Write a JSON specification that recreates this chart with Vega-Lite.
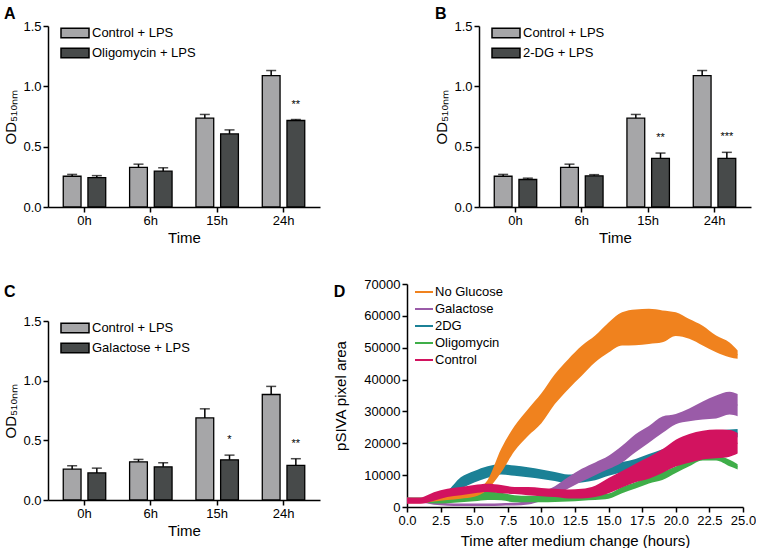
{
  "$schema": "https://vega.github.io/schema/vega-lite/v6.json",
  "padding": {"left": 3, "top": 6, "right": 0, "bottom": 0},
  "background": "white",
  "config": {
    "font": "Liberation Sans",
    "view": {"stroke": null},
    "axis": {"domainColor": "black", "domainWidth": 1.5, "tickColor": "black", "tickWidth": 1.5, "tickSize": 5, "labelColor": "black", "labelFontSize": 13, "labelFont": "Liberation Sans", "titleFont": "Liberation Sans", "titleFontSize": 15, "titleFontWeight": "normal", "titleColor": "black", "grid": false, "labelPadding": 2, "labelOverlap": false, "labelFlush": false},
    "legend": {"labelFontSize": 13, "labelColor": "black", "labelFont": "Liberation Sans", "padding": 0},
    "title": {"font": "Liberation Sans", "fontSize": 16, "fontWeight": "bold", "color": "black", "anchor": "start", "frame": "bounds"}
  },
  "resolve": {"scale": {"color": "independent", "fill": "independent", "stroke": "independent", "x": "independent", "y": "independent", "xOffset": "independent"}, "legend": {"color": "independent", "stroke": "independent"}},
  "datasets": {
    "A": [
      {"time": "0h", "group": "Control + LPS", "mean": 0.255, "top": 0.27, "star": ""},
      {"time": "6h", "group": "Control + LPS", "mean": 0.328, "top": 0.355, "star": ""},
      {"time": "15h", "group": "Control + LPS", "mean": 0.736, "top": 0.767, "star": ""},
      {"time": "24h", "group": "Control + LPS", "mean": 1.089, "top": 1.131, "star": ""},
      {"time": "0h", "group": "Oligomycin + LPS", "mean": 0.244, "top": 0.26, "star": ""},
      {"time": "6h", "group": "Oligomycin + LPS", "mean": 0.297, "top": 0.325, "star": ""},
      {"time": "15h", "group": "Oligomycin + LPS", "mean": 0.606, "top": 0.639, "star": ""},
      {"time": "24h", "group": "Oligomycin + LPS", "mean": 0.717, "top": 0.725, "star": "**"}
    ],
    "B": [
      {"time": "0h", "group": "Control + LPS", "mean": 0.255, "top": 0.27, "star": ""},
      {"time": "6h", "group": "Control + LPS", "mean": 0.328, "top": 0.355, "star": ""},
      {"time": "15h", "group": "Control + LPS", "mean": 0.736, "top": 0.767, "star": ""},
      {"time": "24h", "group": "Control + LPS", "mean": 1.089, "top": 1.131, "star": ""},
      {"time": "0h", "group": "2-DG + LPS", "mean": 0.228, "top": 0.239, "star": ""},
      {"time": "6h", "group": "2-DG + LPS", "mean": 0.258, "top": 0.268, "star": ""},
      {"time": "15h", "group": "2-DG + LPS", "mean": 0.403, "top": 0.447, "star": "**"},
      {"time": "24h", "group": "2-DG + LPS", "mean": 0.403, "top": 0.453, "star": "***"}
    ],
    "C": [
      {"time": "0h", "group": "Control + LPS", "mean": 0.258, "top": 0.287, "star": ""},
      {"time": "6h", "group": "Control + LPS", "mean": 0.32, "top": 0.34, "star": ""},
      {"time": "15h", "group": "Control + LPS", "mean": 0.688, "top": 0.764, "star": ""},
      {"time": "24h", "group": "Control + LPS", "mean": 0.884, "top": 0.952, "star": ""},
      {"time": "0h", "group": "Galactose + LPS", "mean": 0.227, "top": 0.267, "star": ""},
      {"time": "6h", "group": "Galactose + LPS", "mean": 0.278, "top": 0.312, "star": ""},
      {"time": "15h", "group": "Galactose + LPS", "mean": 0.337, "top": 0.376, "star": "*"},
      {"time": "24h", "group": "Galactose + LPS", "mean": 0.29, "top": 0.346, "star": "**"}
    ],
    "D": [
      {"s": "2DG", "t": 0, "lo": 1400, "mid": 2000, "hi": 2600},
      {"s": "2DG", "t": 1, "lo": 1400, "mid": 2000, "hi": 2600},
      {"s": "2DG", "t": 2, "lo": 1700, "mid": 2500, "hi": 3300},
      {"s": "2DG", "t": 3, "lo": 3000, "mid": 4000, "hi": 5000},
      {"s": "2DG", "t": 4, "lo": 5700, "mid": 7500, "hi": 9300},
      {"s": "2DG", "t": 5, "lo": 7700, "mid": 9500, "hi": 11300},
      {"s": "2DG", "t": 6, "lo": 9200, "mid": 11000, "hi": 12800},
      {"s": "2DG", "t": 7, "lo": 10200, "mid": 11800, "hi": 13400},
      {"s": "2DG", "t": 8, "lo": 9800, "mid": 11400, "hi": 13000},
      {"s": "2DG", "t": 9, "lo": 9300, "mid": 10900, "hi": 12500},
      {"s": "2DG", "t": 10, "lo": 8800, "mid": 10300, "hi": 11800},
      {"s": "2DG", "t": 11, "lo": 8200, "mid": 9600, "hi": 11000},
      {"s": "2DG", "t": 12, "lo": 7400, "mid": 8800, "hi": 10200},
      {"s": "2DG", "t": 13, "lo": 7700, "mid": 9200, "hi": 10700},
      {"s": "2DG", "t": 14, "lo": 8400, "mid": 10000, "hi": 11600},
      {"s": "2DG", "t": 15, "lo": 9800, "mid": 11500, "hi": 13200},
      {"s": "2DG", "t": 16, "lo": 10900, "mid": 12500, "hi": 14100},
      {"s": "2DG", "t": 17, "lo": 11900, "mid": 13500, "hi": 15100},
      {"s": "2DG", "t": 18, "lo": 13400, "mid": 15000, "hi": 16600},
      {"s": "2DG", "t": 19, "lo": 14900, "mid": 16500, "hi": 18100},
      {"s": "2DG", "t": 20, "lo": 16400, "mid": 18000, "hi": 19600},
      {"s": "2DG", "t": 21, "lo": 17900, "mid": 19500, "hi": 21100},
      {"s": "2DG", "t": 22, "lo": 18900, "mid": 20500, "hi": 22100},
      {"s": "2DG", "t": 23, "lo": 20200, "mid": 22000, "hi": 23800},
      {"s": "2DG", "t": 24, "lo": 21300, "mid": 22800, "hi": 24300},
      {"s": "2DG", "t": 24.6, "lo": 21900, "mid": 23200, "hi": 24500},
      {"s": "Galactose", "t": 0, "lo": 1700, "mid": 2300, "hi": 2900},
      {"s": "Galactose", "t": 1, "lo": 1400, "mid": 2000, "hi": 2600},
      {"s": "Galactose", "t": 2, "lo": 700, "mid": 1200, "hi": 1700},
      {"s": "Galactose", "t": 3, "lo": 400, "mid": 800, "hi": 1200},
      {"s": "Galactose", "t": 4, "lo": 300, "mid": 700, "hi": 1100},
      {"s": "Galactose", "t": 5, "lo": 300, "mid": 700, "hi": 1100},
      {"s": "Galactose", "t": 6, "lo": 300, "mid": 700, "hi": 1100},
      {"s": "Galactose", "t": 7, "lo": 400, "mid": 800, "hi": 1200},
      {"s": "Galactose", "t": 8, "lo": 500, "mid": 900, "hi": 1300},
      {"s": "Galactose", "t": 9, "lo": 800, "mid": 1500, "hi": 2200},
      {"s": "Galactose", "t": 10, "lo": 1900, "mid": 3200, "hi": 4500},
      {"s": "Galactose", "t": 11, "lo": 3500, "mid": 5000, "hi": 6500},
      {"s": "Galactose", "t": 12, "lo": 5800, "mid": 7600, "hi": 9400},
      {"s": "Galactose", "t": 13, "lo": 8000, "mid": 10000, "hi": 12000},
      {"s": "Galactose", "t": 14, "lo": 10000, "mid": 12000, "hi": 14000},
      {"s": "Galactose", "t": 15, "lo": 11900, "mid": 14000, "hi": 16100},
      {"s": "Galactose", "t": 16, "lo": 14000, "mid": 16600, "hi": 19200},
      {"s": "Galactose", "t": 17, "lo": 17200, "mid": 20000, "hi": 22800},
      {"s": "Galactose", "t": 18, "lo": 20200, "mid": 22800, "hi": 25400},
      {"s": "Galactose", "t": 19, "lo": 23200, "mid": 25800, "hi": 28400},
      {"s": "Galactose", "t": 20, "lo": 26000, "mid": 27600, "hi": 29200},
      {"s": "Galactose", "t": 21, "lo": 26900, "mid": 28900, "hi": 30900},
      {"s": "Galactose", "t": 22, "lo": 27500, "mid": 30300, "hi": 33100},
      {"s": "Galactose", "t": 23, "lo": 27800, "mid": 31400, "hi": 35000},
      {"s": "Galactose", "t": 24, "lo": 29000, "mid": 32600, "hi": 36200},
      {"s": "Galactose", "t": 24.6, "lo": 28500, "mid": 32000, "hi": 35500},
      {"s": "Oligomycin", "t": 0, "lo": 1400, "mid": 2200, "hi": 3000},
      {"s": "Oligomycin", "t": 1, "lo": 1400, "mid": 2200, "hi": 3000},
      {"s": "Oligomycin", "t": 2, "lo": 1100, "mid": 1900, "hi": 2700},
      {"s": "Oligomycin", "t": 3, "lo": 1200, "mid": 2000, "hi": 2800},
      {"s": "Oligomycin", "t": 4, "lo": 1500, "mid": 2500, "hi": 3500},
      {"s": "Oligomycin", "t": 5, "lo": 1800, "mid": 3000, "hi": 4200},
      {"s": "Oligomycin", "t": 6, "lo": 2200, "mid": 3500, "hi": 4800},
      {"s": "Oligomycin", "t": 7, "lo": 2100, "mid": 3300, "hi": 4500},
      {"s": "Oligomycin", "t": 8, "lo": 1500, "mid": 2600, "hi": 3700},
      {"s": "Oligomycin", "t": 9, "lo": 1500, "mid": 2500, "hi": 3500},
      {"s": "Oligomycin", "t": 10, "lo": 1500, "mid": 2500, "hi": 3500},
      {"s": "Oligomycin", "t": 11, "lo": 1600, "mid": 2600, "hi": 3600},
      {"s": "Oligomycin", "t": 12, "lo": 1700, "mid": 2700, "hi": 3700},
      {"s": "Oligomycin", "t": 13, "lo": 2000, "mid": 2800, "hi": 3600},
      {"s": "Oligomycin", "t": 14, "lo": 2200, "mid": 3000, "hi": 3800},
      {"s": "Oligomycin", "t": 15, "lo": 2600, "mid": 3400, "hi": 4200},
      {"s": "Oligomycin", "t": 16, "lo": 4300, "mid": 5300, "hi": 6300},
      {"s": "Oligomycin", "t": 17, "lo": 5800, "mid": 6800, "hi": 7800},
      {"s": "Oligomycin", "t": 18, "lo": 7400, "mid": 8400, "hi": 9400},
      {"s": "Oligomycin", "t": 19, "lo": 8500, "mid": 9800, "hi": 11100},
      {"s": "Oligomycin", "t": 20, "lo": 10700, "mid": 11700, "hi": 12700},
      {"s": "Oligomycin", "t": 21, "lo": 12800, "mid": 13800, "hi": 14800},
      {"s": "Oligomycin", "t": 22, "lo": 14600, "mid": 15400, "hi": 16200},
      {"s": "Oligomycin", "t": 23, "lo": 14600, "mid": 15400, "hi": 16200},
      {"s": "Oligomycin", "t": 24, "lo": 12800, "mid": 13800, "hi": 14800},
      {"s": "Oligomycin", "t": 24.6, "lo": 11800, "mid": 12600, "hi": 13400},
      {"s": "No Glucose", "t": 0, "lo": 1200, "mid": 2000, "hi": 2800},
      {"s": "No Glucose", "t": 1, "lo": 1200, "mid": 2000, "hi": 2800},
      {"s": "No Glucose", "t": 2, "lo": 1700, "mid": 2500, "hi": 3300},
      {"s": "No Glucose", "t": 3, "lo": 2200, "mid": 3000, "hi": 3800},
      {"s": "No Glucose", "t": 4, "lo": 2600, "mid": 3500, "hi": 4400},
      {"s": "No Glucose", "t": 5, "lo": 3200, "mid": 4200, "hi": 5200},
      {"s": "No Glucose", "t": 6, "lo": 5500, "mid": 7000, "hi": 8500},
      {"s": "No Glucose", "t": 7, "lo": 10800, "mid": 14500, "hi": 18200},
      {"s": "No Glucose", "t": 8, "lo": 17600, "mid": 21500, "hi": 25400},
      {"s": "No Glucose", "t": 9, "lo": 22300, "mid": 26500, "hi": 30700},
      {"s": "No Glucose", "t": 10, "lo": 26300, "mid": 31000, "hi": 35700},
      {"s": "No Glucose", "t": 11, "lo": 32300, "mid": 37000, "hi": 41700},
      {"s": "No Glucose", "t": 12, "lo": 37000, "mid": 41700, "hi": 46400},
      {"s": "No Glucose", "t": 13, "lo": 41200, "mid": 45900, "hi": 50600},
      {"s": "No Glucose", "t": 14, "lo": 45400, "mid": 49600, "hi": 53800},
      {"s": "No Glucose", "t": 15, "lo": 48500, "mid": 53200, "hi": 57900},
      {"s": "No Glucose", "t": 16, "lo": 50700, "mid": 55900, "hi": 61100},
      {"s": "No Glucose", "t": 17, "lo": 50800, "mid": 56400, "hi": 62000},
      {"s": "No Glucose", "t": 18, "lo": 51200, "mid": 56700, "hi": 62200},
      {"s": "No Glucose", "t": 19, "lo": 51700, "mid": 56700, "hi": 61700},
      {"s": "No Glucose", "t": 20, "lo": 53700, "mid": 57400, "hi": 61100},
      {"s": "No Glucose", "t": 21, "lo": 52800, "mid": 55900, "hi": 59000},
      {"s": "No Glucose", "t": 22, "lo": 50700, "mid": 53800, "hi": 56900},
      {"s": "No Glucose", "t": 23, "lo": 48600, "mid": 51200, "hi": 53800},
      {"s": "No Glucose", "t": 24, "lo": 47000, "mid": 49300, "hi": 51600},
      {"s": "No Glucose", "t": 24.6, "lo": 46500, "mid": 47800, "hi": 49100},
      {"s": "Control", "t": 0, "lo": 1000, "mid": 2000, "hi": 3000},
      {"s": "Control", "t": 1, "lo": 1000, "mid": 2000, "hi": 3000},
      {"s": "Control", "t": 2, "lo": 2000, "mid": 3300, "hi": 4600},
      {"s": "Control", "t": 3, "lo": 3100, "mid": 4400, "hi": 5700},
      {"s": "Control", "t": 4, "lo": 3700, "mid": 5000, "hi": 6300},
      {"s": "Control", "t": 5, "lo": 4300, "mid": 5600, "hi": 6900},
      {"s": "Control", "t": 6, "lo": 4700, "mid": 6000, "hi": 7300},
      {"s": "Control", "t": 7, "lo": 4300, "mid": 5600, "hi": 6900},
      {"s": "Control", "t": 8, "lo": 4100, "mid": 5200, "hi": 6300},
      {"s": "Control", "t": 9, "lo": 3700, "mid": 5000, "hi": 6300},
      {"s": "Control", "t": 10, "lo": 3400, "mid": 4700, "hi": 6000},
      {"s": "Control", "t": 11, "lo": 3100, "mid": 4400, "hi": 5700},
      {"s": "Control", "t": 12, "lo": 2700, "mid": 4100, "hi": 5500},
      {"s": "Control", "t": 13, "lo": 2700, "mid": 4200, "hi": 5700},
      {"s": "Control", "t": 14, "lo": 3100, "mid": 4900, "hi": 6700},
      {"s": "Control", "t": 15, "lo": 4300, "mid": 6700, "hi": 9100},
      {"s": "Control", "t": 16, "lo": 6100, "mid": 8700, "hi": 11300},
      {"s": "Control", "t": 17, "lo": 7800, "mid": 10700, "hi": 13600},
      {"s": "Control", "t": 18, "lo": 8900, "mid": 12300, "hi": 15700},
      {"s": "Control", "t": 19, "lo": 10700, "mid": 14400, "hi": 18100},
      {"s": "Control", "t": 20, "lo": 12700, "mid": 16900, "hi": 21100},
      {"s": "Control", "t": 21, "lo": 13900, "mid": 18400, "hi": 22900},
      {"s": "Control", "t": 22, "lo": 14900, "mid": 19400, "hi": 23900},
      {"s": "Control", "t": 23, "lo": 15300, "mid": 19800, "hi": 24300},
      {"s": "Control", "t": 24, "lo": 15800, "mid": 20000, "hi": 24200},
      {"s": "Control", "t": 24.6, "lo": 16800, "mid": 20000, "hi": 23200}
    ]
  },
  "vconcat": [
    {
      "resolve": {"scale": {"color": "independent", "x": "independent", "y": "independent", "xOffset": "independent"}, "legend": {"color": "independent"}},
      "hconcat": [
        {
          "width": 272, "height": 181,
          "title": {"text": "A", "offset": 2, "dy": 4},
          "data": {"name": "A"},
          "encoding": {
            "x": {"field": "time", "type": "nominal", "sort": ["0h", "6h", "15h", "24h"], "scale": {"paddingInner": 0.36, "paddingOuter": 0.23}, "axis": {"title": "Time", "labelAngle": 0, "titlePadding": 3}},
            "xOffset": {"field": "group", "type": "nominal", "sort": ["Control + LPS", "Oligomycin + LPS"], "scale": {"paddingInner": 0.28}}
          },
          "layer": [
            {"mark": {"type": "bar", "stroke": "black", "strokeWidth": 1.3},
             "encoding": {
               "y": {"field": "mean", "type": "quantitative", "scale": {"domain": [0, 1.5], "nice": false}, "axis": {"title": "OD₅₁₀ₙₘ", "values": [0, 0.5, 1, 1.5], "format": ".1f", "titlePadding": 4}},
               "color": {"field": "group", "type": "nominal", "scale": {"domain": ["Control + LPS", "Oligomycin + LPS"], "range": ["#a6a6a8", "#474a4a"]},
                 "legend": {"title": null, "orient": "none", "legendX": 19, "legendY": -1, "symbolType": "M-2,-0.68H2V0.68H-2Z", "symbolSize": 196, "symbolStrokeColor": "black", "symbolStrokeWidth": 1.5, "symbolOpacity": 1, "labelOffset": 9, "rowPadding": 4}}
             }},
            {"mark": {"type": "rule", "color": "black", "strokeWidth": 1.5}, "encoding": {"y": {"field": "mean", "type": "quantitative"}, "y2": {"field": "top"}}},
            {"mark": {"type": "tick", "color": "black", "thickness": 1.5, "size": 10}, "encoding": {"y": {"field": "top", "type": "quantitative"}}},
            {"mark": {"type": "text", "fontSize": 11, "dy": -12, "baseline": "alphabetic", "color": "black"}, "encoding": {"y": {"field": "top", "type": "quantitative"}, "text": {"field": "star"}}}
          ]
        },
        {
          "width": 272, "height": 181,
          "title": {"text": "B", "offset": 2, "dy": 4},
          "data": {"name": "B"},
          "encoding": {
            "x": {"field": "time", "type": "nominal", "sort": ["0h", "6h", "15h", "24h"], "scale": {"paddingInner": 0.36, "paddingOuter": 0.23}, "axis": {"title": "Time", "labelAngle": 0, "titlePadding": 3}},
            "xOffset": {"field": "group", "type": "nominal", "sort": ["Control + LPS", "2-DG + LPS"], "scale": {"paddingInner": 0.28}}
          },
          "layer": [
            {"mark": {"type": "bar", "stroke": "black", "strokeWidth": 1.3},
             "encoding": {
               "y": {"field": "mean", "type": "quantitative", "scale": {"domain": [0, 1.5], "nice": false}, "axis": {"title": "OD₅₁₀ₙₘ", "values": [0, 0.5, 1, 1.5], "format": ".1f", "titlePadding": 4}},
               "color": {"field": "group", "type": "nominal", "scale": {"domain": ["Control + LPS", "2-DG + LPS"], "range": ["#a6a6a8", "#474a4a"]},
                 "legend": {"title": null, "orient": "none", "legendX": 19, "legendY": -1, "symbolType": "M-2,-0.68H2V0.68H-2Z", "symbolSize": 196, "symbolStrokeColor": "black", "symbolStrokeWidth": 1.5, "symbolOpacity": 1, "labelOffset": 9, "rowPadding": 4}}
             }},
            {"mark": {"type": "rule", "color": "black", "strokeWidth": 1.5}, "encoding": {"y": {"field": "mean", "type": "quantitative"}, "y2": {"field": "top"}}},
            {"mark": {"type": "tick", "color": "black", "thickness": 1.5, "size": 10}, "encoding": {"y": {"field": "top", "type": "quantitative"}}},
            {"mark": {"type": "text", "fontSize": 11, "dy": -12, "baseline": "alphabetic", "color": "black"}, "encoding": {"y": {"field": "top", "type": "quantitative"}, "text": {"field": "star"}}}
          ]
        }
      ],
      "spacing": 114
    },
    {
      "resolve": {"scale": {"color": "independent", "fill": "independent", "stroke": "independent", "x": "independent", "y": "independent", "xOffset": "independent"}, "legend": {"color": "independent", "stroke": "independent"}},
      "hconcat": [
        {
          "width": 272, "height": 216,
          "title": {"text": "C", "offset": 6, "dy": 22},
          "data": {"name": "C"},
          "encoding": {
            "x": {"field": "time", "type": "nominal", "sort": ["0h", "6h", "15h", "24h"], "scale": {"paddingInner": 0.36, "paddingOuter": 0.23}, "axis": {"title": "Time", "labelAngle": 0, "titlePadding": 3}},
            "xOffset": {"field": "group", "type": "nominal", "sort": ["Control + LPS", "Galactose + LPS"], "scale": {"paddingInner": 0.28}}
          },
          "layer": [
            {"mark": {"type": "bar", "stroke": "black", "strokeWidth": 1.3},
             "encoding": {
               "y": {"field": "mean", "type": "quantitative", "scale": {"domain": [0, 1.5], "nice": false, "range": [216, 37]}, "axis": {"title": "OD₅₁₀ₙₘ", "values": [0, 0.5, 1, 1.5], "format": ".1f", "titlePadding": 4}},
               "color": {"field": "group", "type": "nominal", "scale": {"domain": ["Control + LPS", "Galactose + LPS"], "range": ["#a6a6a8", "#474a4a"]},
                 "legend": {"title": null, "orient": "none", "legendX": 19, "legendY": 36, "symbolType": "M-2,-0.68H2V0.68H-2Z", "symbolSize": 196, "symbolStrokeColor": "black", "symbolStrokeWidth": 1.5, "symbolOpacity": 1, "labelOffset": 9, "rowPadding": 4}}
             }},
            {"mark": {"type": "rule", "color": "black", "strokeWidth": 1.5}, "encoding": {"y": {"field": "mean", "type": "quantitative"}, "y2": {"field": "top"}}},
            {"mark": {"type": "tick", "color": "black", "thickness": 1.5, "size": 10}, "encoding": {"y": {"field": "top", "type": "quantitative"}}},
            {"mark": {"type": "text", "fontSize": 11, "dy": -12, "baseline": "alphabetic", "color": "black"}, "encoding": {"y": {"field": "top", "type": "quantitative"}, "text": {"field": "star"}}}
          ]
        },
        {
          "width": 336, "height": 223,
          "title": {"text": "D", "offset": 6, "dy": 28},
          "data": {"name": "D"},
          "encoding": {
            "x": {"field": "t", "type": "quantitative", "scale": {"domain": [0, 25], "nice": false}, "axis": {"title": "Time after medium change (hours)", "values": [0, 2.5, 5, 7.5, 10, 12.5, 15, 17.5, 20, 22.5, 25], "format": ".1f", "titlePadding": 6, "labelFlush": false}}
          },
          "layer": [
            {"mark": {"type": "line", "interpolate": "monotone", "strokeWidth": 1},
             "encoding": {
               "y": {"field": "mid", "type": "quantitative", "scale": {"domain": [0, 70000], "nice": false}, "axis": {"title": "pSIVA pixel area", "values": [0, 10000, 20000, 30000, 40000, 50000, 60000, 70000], "format": "d", "titlePadding": 15, "labelOverlap": false}},
               "stroke": {"field": "s", "type": "nominal", "scale": {"domain": ["No Glucose", "Galactose", "2DG", "Oligomycin", "Control"], "range": ["#f0821e", "#9a5ba8", "#1b8196", "#3fae49", "#d2135f"]},
                 "legend": {"title": null, "orient": "none", "legendX": 10, "legendY": 1, "symbolType": "M-1.5,0H1.5", "symbolSize": 144, "symbolStrokeWidth": 2, "labelOffset": 4, "rowPadding": 3}}
             }},
            {"mark": {"type": "area", "interpolate": "monotone", "opacity": 1},
             "encoding": {
               "y": {"field": "lo", "type": "quantitative", "scale": {"domain": [0, 70000], "nice": false}, "axis": {"title": "pSIVA pixel area", "values": [0, 10000, 20000, 30000, 40000, 50000, 60000, 70000], "format": "d", "titlePadding": 15, "labelOverlap": false}},
               "y2": {"field": "hi"},
               "fill": {"field": "s", "type": "nominal", "scale": {"domain": ["No Glucose", "Galactose", "2DG", "Oligomycin", "Control"], "range": ["#f0821e", "#9a5ba8", "#1b8196", "#3fae49", "#d2135f"]}, "legend": null}
             }}
          ]
        }
      ],
      "spacing": 13
    }
  ],
  "spacing": 33
}
